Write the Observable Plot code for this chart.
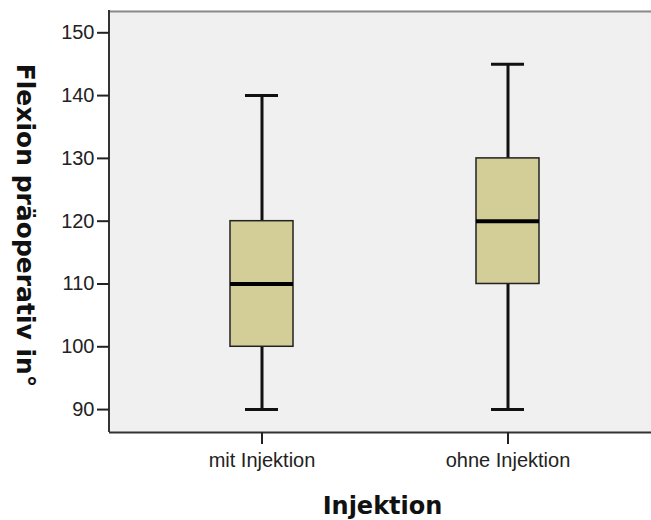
<!DOCTYPE html>
<html>
<head>
<meta charset="utf-8">
<script src="https://cdn.jsdelivr.net/npm/d3@7"></script>
<script src="https://cdn.jsdelivr.net/npm/@observablehq/plot@0.6"></script>
<style>
  html, body { margin: 0; padding: 0; background: #ffffff; overflow: hidden; }
  #chart svg { display: block; max-width: none !important; }
</style>
</head>
<body>
<div id="chart"></div>
<script>
const categories = ["mit Injektion", "ohne Injektion"];
const mins = [90, 90];
const q1s = [100, 110];
const medians = [110, 120];
const q3s = [120, 130];
const maxs = [140, 145];
const yTicks = [90, 100, 110, 120, 130, 140, 150];
const yDomain = [86.35, 153.55];
const xTitle = "Injektion";
const yTitle = "Flexion präoperativ in°";

const rows = categories.map((c, i) => ({
  cat: c, min: mins[i], q1: q1s[i], med: medians[i], q3: q3s[i], max: maxs[i]
}));

const titleFont = "DejaVu Sans, Verdana, sans-serif";
const W = 651, ML = 109;

const chart = Plot.plot({
  width: W,
  height: 520,
  marginLeft: ML,
  marginRight: 0,
  marginTop: 10,
  marginBottom: 88,
  style: { background: "#ffffff", fontFamily: "Liberation Sans, Arial, sans-serif", overflow: "hidden" },
  x: { domain: categories, range: [ML, 660], paddingInner: 0.744, paddingOuter: 0.4917, align: 0.5 },
  y: { domain: yDomain },
  marks: [
    Plot.frame({ fill: "#f0f0f0" }),
    Plot.ruleX(rows, { x: "cat", y1: "min", y2: "q1", stroke: "#111", strokeWidth: 3 }),
    Plot.ruleX(rows, { x: "cat", y1: "q3", y2: "max", stroke: "#111", strokeWidth: 3 }),
    Plot.tickY(rows, { x: "cat", y: "min", insetLeft: 15, insetRight: 15, stroke: "#111", strokeWidth: 3 }),
    Plot.tickY(rows, { x: "cat", y: "max", insetLeft: 15, insetRight: 15, stroke: "#111", strokeWidth: 3 }),
    Plot.barY(rows, { x: "cat", y1: "q1", y2: "q3", fill: "#d3ce97", stroke: "#222", strokeWidth: 1.5 }),
    Plot.tickY(rows, { x: "cat", y: "med", stroke: "#000", strokeWidth: 4 }),
    Plot.ruleY([yDomain[1]], { stroke: "#8a8a8a", strokeWidth: 2, dy: 1 }),
    Plot.rect([0], { y1: () => yDomain[0], y2: () => yDomain[1], insetLeft: -1, insetRight: (W - ML) - 1, fill: "#333" }),
    Plot.ruleY([yDomain[0]], { stroke: "#333", strokeWidth: 2 }),
    Plot.axisY({ ticks: yTicks, tickSize: 12, tickPadding: 3, fontSize: 20, label: null, color: "#222", strokeWidth: 2 }),
    Plot.axisX({ tickSize: 12, tickPadding: 8, fontSize: 20, label: null, color: "#222", strokeWidth: 2 }),
    Plot.text([xTitle], { frameAnchor: "bottom", lineAnchor: "bottom", dy: 81, dx: 2, fontSize: 24, fontWeight: "bold", fontFamily: titleFont, fill: "#111" }),
    Plot.text([yTitle], { frameAnchor: "left", rotate: 90, dx: -85, dy: 4, textAnchor: "middle", lineAnchor: "middle", fontSize: 25, fontWeight: "bold", fontFamily: titleFont, fill: "#111" })
  ]
});

document.getElementById("chart").appendChild(chart);
</script>
</body>
</html>
